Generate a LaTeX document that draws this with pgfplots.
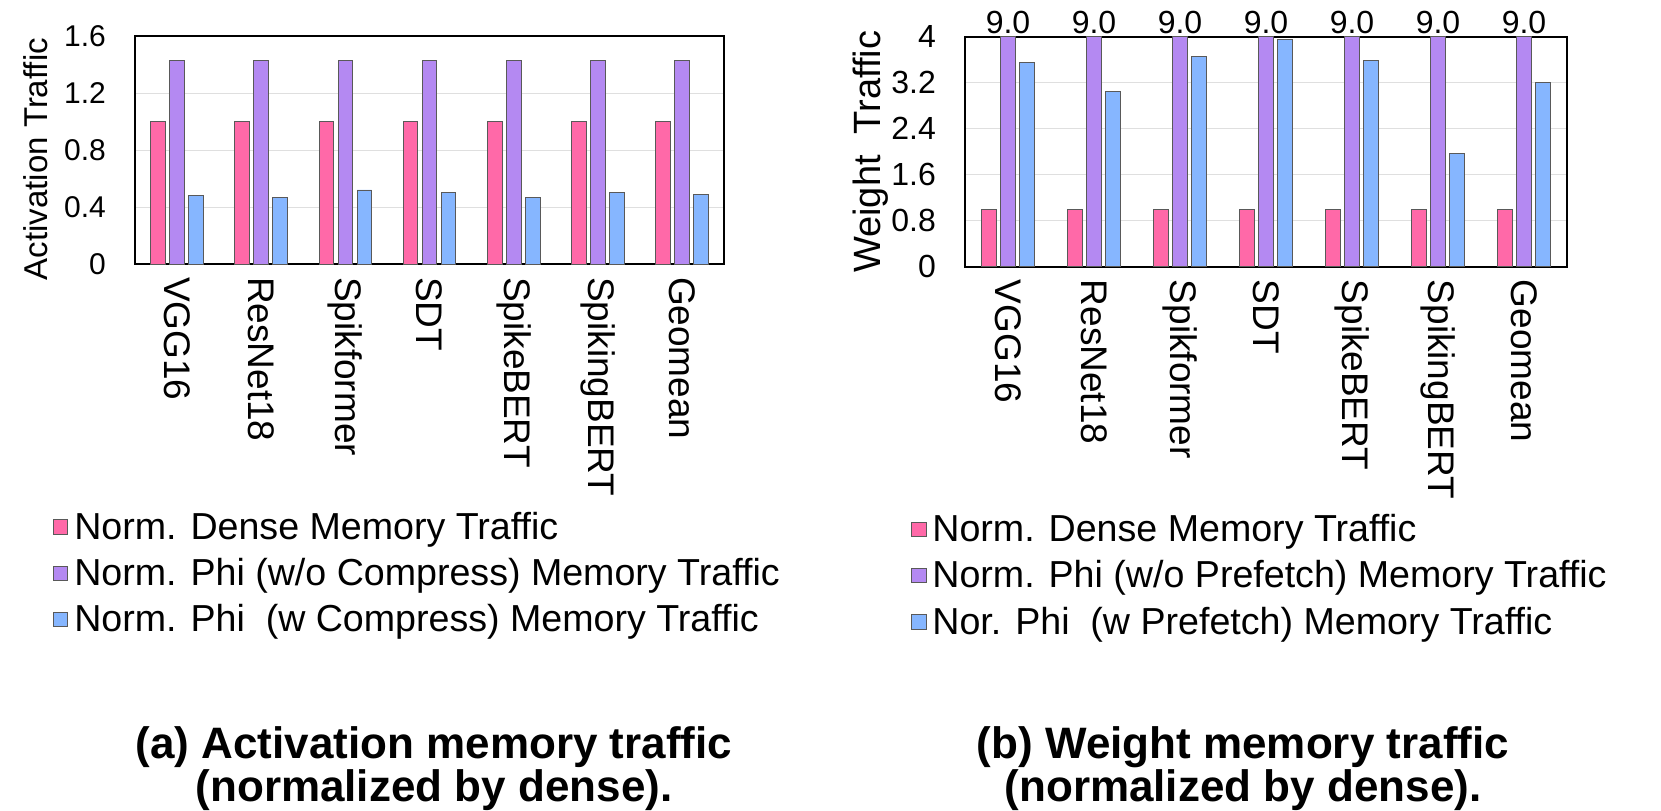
\documentclass[border=0pt]{standalone}
\usepackage{fontspec}
\setmainfont{Liberation Sans}
\usepackage{pgfplots}
\pgfplotsset{compat=1.18}

\definecolor{cdense}{RGB}{255,105,168}
\definecolor{cphi}{RGB}{180,137,242}
\definecolor{ccomp}{RGB}{134,182,255}

\pgfplotsset{
  trafficbars/.style={
    scale only axis,
    anchor=south west,
    ybar=2.15pt,
    bar width=7.35pt,
    xmin=-0.5, xmax=6.5,
    ymin=0,
    enlargelimits=false,
    xtick={0,...,6},
    xticklabels={VGG16,ResNet18,Spikformer,SDT,SpikeBERT,SpikingBERT,Geomean},
    major tick length=0pt,
    xticklabel style={rotate=-90, anchor=west, font=\fontsize{18.5}{22}\selectfont},
    xticklabel shift=3pt,
    yticklabel style={xshift=-11pt, font=\fontsize{15}{18}\selectfont},
    /pgf/number format/assume math mode=true,
    ymajorgrids,
    grid style={gray!25, line width=0.5pt},
    axis line style={black, line width=0.8pt},
    every axis plot/.append style={draw=black!65, line width=0.4pt},
    ylabel style={font=\fontsize{16.5}{19}\selectfont},
    legend cell align=left,
    legend image code/.code={\draw[#1, draw=black!65, line width=0.4pt] (0pt,-3.6pt) rectangle (7.2pt,3.6pt);},
    legend style={draw=none, fill=none, anchor=north west,
      font=\fontsize{18.8}{22}\selectfont, row sep=4pt,
      nodes={inner xsep=3pt}},
  }
}

\begin{document}
\begin{tikzpicture}
\useasboundingbox (0,0) rectangle (830.5pt,405pt);

% (a) activation traffic
\begin{axis}[
  trafficbars,
  at={(67.5pt,273pt)},
  width=294.5pt, height=114pt,
  ymax=1.6,
  ytick={0,0.4,0.8,1.2,1.6},
  ylabel={Activation Traffic},
  ylabel style={at={(axis description cs:-0.169,0.46)}, anchor=center},
  legend style={at={(axis description cs:-0.15,-1.05)}},
]
\addplot[fill=cdense] coordinates {(0,1.00) (1,1.00) (2,1.00) (3,1.00) (4,1.00) (5,1.00) (6,1.00)};
\addplot[fill=cphi] coordinates {(0,1.43) (1,1.43) (2,1.43) (3,1.43) (4,1.43) (5,1.43) (6,1.43)};
\addplot[fill=ccomp] coordinates {(0,0.48) (1,0.47) (2,0.52) (3,0.50) (4,0.47) (5,0.50) (6,0.49)};
\legend{Norm. Dense Memory Traffic, Norm. Phi (w/o Compress) Memory Traffic, Norm. Phi\ \ (w Compress) Memory Traffic}
\end{axis}

% (b) weight traffic
\begin{axis}[
  trafficbars,
  at={(482.5pt,271.65pt)},
  width=301pt, height=115pt,
  ymax=4,
  ytick={0,0.8,1.6,2.4,3.2,4},
  yticklabels={0,0.8,1.6,2.4,3.2,4},
  yticklabel style={font=\fontsize{16}{19}\selectfont},
  ylabel={Weight\ \ Traffic},
  ylabel style={at={(axis description cs:-0.156,0.5)}, anchor=center, font=\fontsize{19}{22}\selectfont},
  legend style={at={(axis description cs:-0.1,-1.04)}},
]
\addplot[fill=cdense] coordinates {(0,1.00) (1,1.00) (2,1.00) (3,1.00) (4,1.00) (5,1.00) (6,1.00)};
\addplot[fill=cphi, restrict y to domain*=0:4,
  nodes near coords, point meta=explicit symbolic,
  every node near coord/.append style={font=\fontsize{16}{19}\selectfont, inner sep=1pt, anchor=south, text=black}]
  coordinates {(0,9.0)[9.0] (1,9.0)[9.0] (2,9.0)[9.0] (3,9.0)[9.0] (4,9.0)[9.0] (5,9.0)[9.0] (6,9.0)[9.0]};
\addplot[fill=ccomp] coordinates {(0,3.55) (1,3.05) (2,3.66) (3,3.95) (4,3.59) (5,1.97) (6,3.21)};
\legend{Norm. Dense Memory Traffic, Norm. Phi (w/o Prefetch) Memory Traffic, Nor. Phi\ \ (w Prefetch) Memory Traffic}
\end{axis}

\node[font=\bfseries\fontsize{22}{26}\selectfont] at (217pt,31.5pt) {(a) Activation memory traffic};
\node[font=\bfseries\fontsize{22}{26}\selectfont] at (217pt,10pt) {(normalized by dense).};
\node[font=\bfseries\fontsize{22}{26}\selectfont] at (621.5pt,31.5pt) {(b) Weight memory traffic};
\node[font=\bfseries\fontsize{22}{26}\selectfont] at (621.5pt,10pt) {(normalized by dense).};
\end{tikzpicture}
\end{document}
